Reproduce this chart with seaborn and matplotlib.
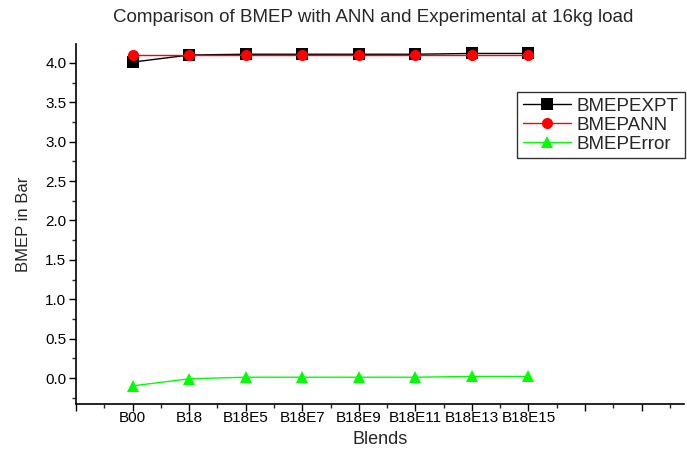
import matplotlib
matplotlib.use('Agg')
import matplotlib.pyplot as plt
from matplotlib.ticker import MultipleLocator
import seaborn as sns
import pandas as pd

blends = ['B00', 'B18', 'B18E5', 'B18E7', 'B18E9', 'B18E11', 'B18E13', 'B18E15']
bmep_expt = [4.01, 4.10, 4.11, 4.11, 4.11, 4.11, 4.12, 4.12]
bmep_ann = [4.10, 4.10, 4.10, 4.10, 4.10, 4.10, 4.10, 4.10]
bmep_error = [-0.10, -0.01, 0.01, 0.01, 0.01, 0.01, 0.02, 0.02]

df = pd.DataFrame({
    'Blends': blends * 3,
    'BMEP': bmep_expt + bmep_ann + bmep_error,
    'Serie': ['BMEPEXPT'] * 8 + ['BMEPANN'] * 8 + ['BMEPError'] * 8,
})

sns.set_style('ticks')
plt.rcParams['font.family'] = ['Liberation Sans', 'DejaVu Sans']

fig = plt.figure(figsize=(6.87, 4.53), dpi=100)
ax = fig.add_axes([76 / 687, 49 / 453, 608 / 687, 360 / 453])

sns.lineplot(
    data=df, x='Blends', y='BMEP', hue='Serie', style='Serie',
    palette={'BMEPEXPT': 'black', 'BMEPANN': '#ff0000', 'BMEPError': '#00ff00'},
    markers={'BMEPEXPT': 's', 'BMEPANN': 'o', 'BMEPError': '^'},
    dashes=False, markersize=8, markeredgewidth=0, linewidth=1,
    sort=False, ax=ax,
)

ax.set_xlim(-0.97, 9.75)
ax.set_ylim(-0.33, 4.24)
ax.set_xticks(range(-1, 10))
ax.set_xticklabels([''] + blends + ['', ''])
ax.xaxis.set_minor_locator(MultipleLocator(0.5))
ax.yaxis.set_major_locator(MultipleLocator(0.5))
ax.yaxis.set_minor_locator(MultipleLocator(0.25))
ax.tick_params(which='major', length=5, width=1, colors='black')
ax.tick_params(axis='x', labelsize=11, pad=0)
ax.tick_params(axis='y', labelsize=11, pad=2)
ax.tick_params(which='minor', length=3, width=1)
for s in ['left', 'bottom']:
    ax.spines[s].set_linewidth(1.2)
    ax.spines[s].set_color('black')
sns.despine(ax=ax)

ax.set_xlabel('Blends', fontsize=13, labelpad=4)
ax.set_ylabel('BMEP in Bar', fontsize=12, labelpad=10)
fig.text(373 / 687, 1 - 17 / 453, 'Comparison of BMEP with ANN and Experimental at 16kg load',
         fontsize=13.5, ha='center', va='center')

leg = ax.legend(
    title=None, loc='upper left', bbox_to_anchor=(517 / 687, 1 - 92 / 453),
    bbox_transform=fig.transFigure, fontsize=13.5, frameon=True, fancybox=False,
    edgecolor='black', handlelength=2.6, borderpad=0.3, labelspacing=0.1,
    handletextpad=0.3, borderaxespad=0,
)
leg.get_frame().set_linewidth(1)

plt.savefig('out.png', dpi=100)
